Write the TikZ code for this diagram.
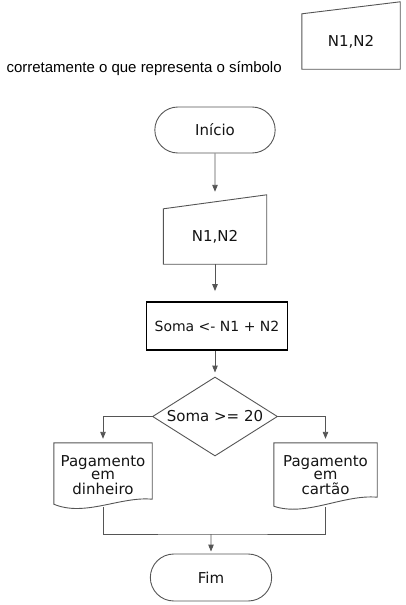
\documentclass[tikz,border=0pt]{standalone}
\usepackage{fontspec}
\setmainfont{DejaVu Sans}
\newfontfamily\arialfont{Liberation Sans}
\usepackage{tikz}
\usetikzlibrary{shapes.geometric,shapes.misc,arrows.meta,calc}
\definecolor{linegray}{RGB}{85,85,85}
\definecolor{inkgray}{RGB}{20,20,20}

\begin{document}
\begin{tikzpicture}[x=1pt, y=-1pt, >={Triangle[length=7pt,width=5.5pt]},
    line/.style={draw=linegray, line width=0.9pt},
    txt/.style={text=inkgray, font=\fontsize{15}{17}\selectfont},
    term/.style={rounded rectangle, line, txt, minimum width=127pt, minimum height=46pt},
    entrada/.style={txt, inner sep=0pt, minimum height=55pt},
    docbox/.style={txt, inner sep=0pt, align=center, minimum width=#1, minimum height=64pt},
    seta/.style={line, ->}]
    \useasboundingbox (0,0) rectangle (405,605);

    % Question line and the symbol
    \node[anchor=base west, text=black, font=\arialfont\fontsize{15}{17}\selectfont] (pergunta) at (3,72) {corretamente o que representa o símbolo};
    \node[entrada, minimum width=98pt] (simbolo) at (351,41.5) {N1,N2};
    \draw[line] (simbolo.south west) -- (simbolo.north west) -- ($(simbolo.north east)+(0,-12)$) -- (simbolo.south east) -- cycle;

    % Flowchart
    \node[term] (inicio) at (215,130) {Início};
    \node[entrada, minimum width=103pt] (entrada) at (215,236.5) {N1,N2};
    \draw[line] (entrada.south west) -- (entrada.north west) -- ($(entrada.north east)+(0,-14)$) -- (entrada.south east) -- cycle;
    \node[rectangle, draw=black, line width=1.8pt, txt, font=\fontsize{14}{16}\selectfont, minimum width=141pt, minimum height=48pt] (soma) at (217,326) {Soma <- N1 + N2};
    \node[diamond, line, txt, aspect=1.6, inner sep=0pt, minimum width=125pt, minimum height=79pt] (cond) at (215,416.5) {Soma >= 20};

    % Documents
    \node[docbox=98pt] (pdin) at (103,475) {Pagamento\\[-3.5pt]em\\[-2pt]dinheiro};
    \draw[line] (pdin.north west) -- (pdin.north east) -- ($(pdin.south east)+(0,-8)$) .. controls ($(pdin.south east)+(-32,-11)$) and ($(pdin.south west)+(31,10)$) .. ($(pdin.south west)+(0,-3)$) -- cycle;
    \node[docbox=103pt] (pcar) at (325.5,475) {Pagamento\\[-3.5pt]em\\[-2pt]cartão};
    \draw[line] (pcar.north west) -- (pcar.north east) -- ($(pcar.south east)+(0,-10)$) .. controls ($(pcar.south east)+(-34,-13)$) and ($(pcar.south west)+(32,10)$) .. ($(pcar.south west)+(0,-1)$) -- cycle;

    \node[term, minimum width=128pt, minimum height=47pt] (fim) at (211,577.5) {Fim};
    \coordinate (juncao) at (211,534);

    % Connectors
    \draw[seta, shorten >=17pt] (inicio) -- (entrada);
    \draw[seta, shorten >=10pt] (entrada.south) -- (entrada.south |- soma.north);
    \draw[seta, shorten >=4pt] (soma.south -| cond.north) -- (cond.north);
    \draw[seta, shorten >=4pt] (cond.west) -| (pdin.north);
    \draw[seta, shorten >=4pt] (cond.east) -| (pcar.north);
    \draw[line] (pdin.south) |- (juncao) -| (pcar.south);
    \draw[seta, shorten >=2pt] (juncao) -- (fim);
\end{tikzpicture}
\end{document}
